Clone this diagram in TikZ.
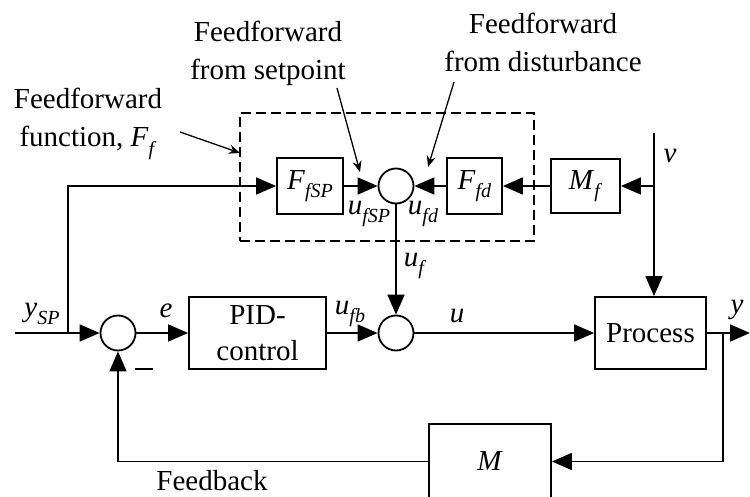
\documentclass[tikz,border=0pt]{standalone}
\usepackage{fontspec}
\setmainfont{Liberation Serif}
\usetikzlibrary{arrows.meta,calc}
\newcommand\sv[2]{\textit{#1}\raisebox{-0.3em}{\fontsize{20}{20}\selectfont\textit{#2}}}
\begin{document}
\begin{tikzpicture}[x=1pt,y=-1pt,
  font=\fontsize{29}{38}\selectfont,
  line width=1.8pt,
  tip/.style={-{Triangle[length=20pt,width=17pt]}},
  ann/.style={line width=1.3pt,-{Stealth[length=11pt,width=9pt]}},
  blk/.style={draw,line width=1.8pt,inner sep=0pt},
  sumj/.style={draw,circle,line width=1.8pt,minimum size=35pt,inner sep=0pt},
  lbl/.style={inner sep=0pt,align=center}]
\useasboundingbox (0,0) rectangle (750,497);
% dashed feedforward region
\node[draw,line width=1.5pt,dash pattern=on 10pt off 5pt,minimum width=294pt,minimum height=128pt,inner sep=0pt] (ffbox) at (387,177) {};
% blocks
\node[blk,minimum width=66pt,minimum height=56pt] (ffsp) at (310,186) {\sv{F}{fSP}};
\node[sumj] (s1) at (396,186) {};
\node[blk,minimum width=55pt,minimum height=56pt] (ffd) at (474.5,186) {\sv{F}{fd}};
\node[blk,minimum width=69pt,minimum height=54pt] (mf) at (585.5,186) {\sv{M}{f}};
\node[sumj] (s2) at (118,333) {};
\node[blk,minimum width=137pt,minimum height=72pt,align=center,font=\fontsize{29}{36}\selectfont] (pid) at (257.5,333) {PID-\\control};
\node[sumj] (s3) at (396,333) {};
\node[blk,minimum width=111pt,minimum height=72pt] (proc) at (650.5,333) {Process};
\node[blk,minimum width=122pt,minimum height=75pt] (m) at (490,461.5) {\textit{M}};
% coordinates
\coordinate (in) at (15,333);
\coordinate (br1) at (68,333);
\coordinate (vtop) at (654,133);
\coordinate (vm) at (654,186);
\coordinate (ybr) at (723,333);
\coordinate (yout) at (750,333);
% connectors
\draw (in) -- (br1);
\draw[tip] (br1) -- (s2.west);
\draw[tip] (br1) |- (ffsp.west);
\draw[tip] (s2.east) -- (pid.west);
\draw[tip] (pid.east) -- (s3.west);
\draw[tip] (s3.east) -- (proc.west);
\draw[tip] (ffsp.east) -- (s1.west);
\draw[tip] (ffd.west) -- (s1.east);
\draw[tip] (mf.west) -- (ffd.east);
\draw[tip] (vtop) -- (vtop |- proc.north);
\draw[tip] (vm) -- (mf.east);
\draw[tip] (s1.south) -- (s3.north);
\draw[tip] (proc.east) -- (yout);
\draw[tip] (ybr) |- (m.east);
\draw[tip] (m.west) -| (s2.south);
% signal labels
\node[lbl] (lysp) at (42,314) {\sv{y}{SP}};
\node[lbl] (le) at (166,311) {\textit{e}};
\node[lbl] (lminus) at (144,369) {\rule{18pt}{1.8pt}};
\node[lbl] (lufb) at (350,314) {\sv{u}{fb}};
\node[lbl] (luf) at (415,266) {\sv{u}{f}};
\node[lbl] (lu) at (457,316) {\textit{u}};
\node[lbl] (ly) at (737,310) {\textit{y}};
\node[lbl] (lv) at (670,156) {\textit{v}};
\node[lbl] (lufsp) at (369,214) {\sv{u}{fSP}};
\node[lbl] (lufd) at (423,214) {\sv{u}{fd}};
\node[inner sep=0pt] (lfb) at (212,481) {Feedback};
% annotations
\node[lbl] (a1) at (88,124) {Feedforward\\function, \sv{F}{f}};
\node[lbl] (a2) at (268,53) {Feedforward\\from setpoint};
\node[lbl] (a3) at (543,42) {Feedforward\\from disturbance};
\coordinate (a1s) at (180,132);
\coordinate (a1e) at (240,153);
\coordinate (a2s) at (337,88);
\coordinate (a2e) at (360,172);
\coordinate (a3s) at (454,82);
\coordinate (a3e) at (428,167);
\draw[ann] (a1s) -- (a1e);
\draw[ann] (a2s) -- (a2e);
\draw[ann] (a3s) -- (a3e);
\end{tikzpicture}
\end{document}
